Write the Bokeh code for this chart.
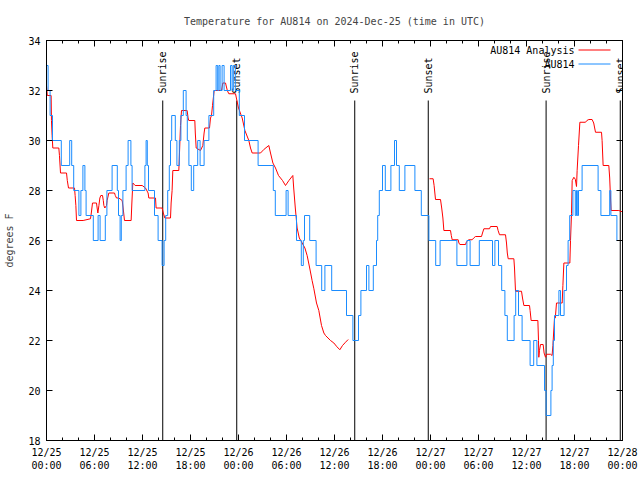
import numpy as np
from bokeh.plotting import figure
from bokeh.models import FixedTicker, LinearAxis, Range1d
from bokeh.core.properties import value
from bokeh.embed import file_html
from bokeh.resources import INLINE

# ---- data (hours since 2024-12-25 00:00 UTC) ----
obs_hours = [0.0, 0.2, 0.45, 0.75, 1.85, 2.9, 3.15, 3.4, 4.05, 4.3, 4.55, 4.8, 4.95, 5.85, 6.45, 6.7,
             7.35, 7.55, 8.2, 8.85, 9.0, 9.2, 9.35, 9.55, 9.95, 10.2, 10.55, 10.7, 12.3, 12.45, 12.6,
             12.75, 13.5, 13.95, 14.45, 14.7, 14.9, 15.15, 15.35, 15.5, 15.65, 16.1, 16.3, 16.6, 16.8,
             17.1, 17.45, 17.6, 17.8, 18.1, 18.4, 18.9, 19.2, 19.7, 20.3, 20.9, 21.2, 21.4, 21.55,
             21.7, 21.95, 22.2, 23.0, 23.2, 23.35, 23.6, 24.1, 24.75, 26.45, 28.35, 28.6, 29.95,
             30.2, 31.25, 31.85, 32.1, 32.25, 32.9, 33.7, 34.4, 34.8, 35.65, 37.5, 38.3, 39.0, 39.3,
             40.0, 40.3, 40.85, 41.25, 41.4, 41.6, 42.0, 42.35, 43.05, 43.5, 43.75, 44.1, 44.8,
             46.05, 46.85, 47.8, 48.65, 49.2, 51.3, 52.55, 52.95, 54.1, 55.75, 56.05, 56.5, 56.9,
             57.3, 57.6, 58.45, 58.65, 59.0, 59.45, 60.45, 60.9, 61.3, 62.25, 62.45, 63.05, 63.2,
             63.35, 63.5, 64.05, 64.25, 64.7, 65.0, 65.2, 65.4, 65.8, 66.1, 66.25, 66.35, 66.5,
             66.95, 68.95, 69.3, 70.4, 70.55, 71.3, 72.0]
obs_temp = [33, 32, 31, 30, 29, 30, 29, 28, 27, 28, 29, 28, 27, 26, 27, 26,
            27, 28, 29, 28, 27, 26, 27, 28, 29, 30, 29, 28, 29, 30, 29,
            28, 27, 26, 25, 26, 27, 28, 29, 30, 31, 30, 29, 30, 31,
            32, 31, 30, 29, 28, 29, 30, 29, 30, 31, 32, 33, 32, 33,
            32, 33, 32, 33, 32, 33, 32, 31, 30, 29, 28, 27, 28,
            27, 26, 25, 26, 27, 26, 25, 24, 25, 24, 23, 22, 23, 24,
            25, 24, 25, 26, 27, 28, 29, 28, 29, 30, 29, 28, 29,
            28, 27, 26, 25, 26, 25, 26, 25, 26, 25, 26, 25, 24,
            23, 22, 23, 24, 23, 22, 21, 22, 21, 20, 19, 20, 21,
            22, 23, 24, 23, 24, 25, 26, 27, 28, 27, 28, 27, 28,
            29, 28, 27, 28, 27, 26, 26]

ana1_hours = [0.0, 0.1, 0.58, 0.62, 0.7, 0.79, 1.54, 1.62, 1.75, 2.5, 2.6, 2.75, 3.5, 3.58, 3.67, 3.75,
              4.58, 5.5, 5.6, 5.75, 6.25, 6.33, 6.42, 6.55, 6.67, 6.79, 7.0, 7.1, 7.17, 7.29, 7.5,
              7.58, 7.79, 8.5, 8.6, 8.75, 9.04, 9.46, 9.58, 9.75, 10.58, 10.67, 10.79, 11.08, 11.96,
              12.375, 12.7, 12.79, 13.625, 13.7, 14.46, 14.6, 14.79, 15.5, 15.58, 15.7, 15.79, 16.54,
              16.6, 16.75, 16.875, 17.58, 17.7, 17.79, 18.54, 18.6, 18.71, 19.25, 19.54, 19.7, 19.79,
              20.375, 20.5, 20.625, 20.75, 20.96, 21.875, 22.04, 22.375, 22.6, 22.79, 23.625, 23.8,
              24.0, 24.46, 24.8, 25.29, 25.5, 25.71, 26.75, 27.2, 27.79, 28.0, 28.3, 28.625, 29.0,
              29.5, 29.875, 30.3, 30.79, 30.9, 31.1, 31.33, 31.6, 31.96, 32.3, 32.58, 32.9, 33.2,
              33.42, 33.75, 34.04, 34.375, 34.67, 34.875, 35.5, 35.92, 36.3, 36.67, 37.0, 37.375, 37.71]
ana1_temp = [32.2, 31.8, 31.8, 30.8, 30.2, 29.7, 29.7, 29.4, 28.7, 28.7, 28.4, 28.1, 28.1, 27.8, 27.4, 26.8,
             26.8, 26.87, 27.1, 27.5, 27.5, 27.3, 27.1, 27.4, 27.7, 27.8, 27.8, 27.6, 27.4, 27.3, 27.4,
             27.6, 27.9, 27.9, 27.8, 27.7, 27.7, 27.6, 27.3, 26.8, 26.8, 27.5, 28.3, 28.2, 28.2,
             28.1, 27.9, 27.7, 27.7, 27.3, 27.3, 27.1, 26.9, 26.9, 27.5, 28.0, 28.8, 28.8,
             29.3, 30.6, 31.2, 31.2, 30.9, 30.8, 30.8, 30.3, 29.7, 29.6, 29.8, 30.3, 30.5,
             30.5, 30.9, 31.0, 31.4, 32.0, 32.0, 32.3, 32.3, 32.0, 31.87, 31.87, 31.6,
             31.3, 30.9, 30.4, 30.0, 29.7, 29.5, 29.5, 29.65, 29.8, 29.5, 29.1, 28.9, 28.6,
             28.4, 28.2, 28.4, 28.6, 28.1, 27.3, 26.5, 26.1, 25.9, 25.7, 25.4, 24.9, 24.4,
             24.07, 23.5, 23.2, 22.6, 22.3, 22.2, 22.0, 21.9, 21.75, 21.63, 21.8, 21.93, 22.04]

ana2_hours = [47.875, 48.33, 48.45, 48.625, 49.25, 49.4, 49.55, 49.67, 50.5, 50.6, 50.71, 51.46, 51.55,
              51.67, 52.375, 52.5, 52.79, 53.21, 53.4, 53.625, 54.375, 54.5, 54.67, 55.375, 55.5,
              56.33, 56.45, 56.625, 57.375, 57.5, 57.6, 57.71, 58.42, 58.5, 58.625, 59.375, 59.5,
              59.67, 60.375, 60.45, 60.58, 61.42, 61.5, 61.54, 61.62, 61.75, 62.08, 62.2, 62.375,
              62.5, 63.0, 63.2, 63.3, 63.5, 63.6, 63.75, 64.46, 64.55, 64.67, 65.42, 65.5, 65.625,
              65.71, 65.92, 66.1, 66.25, 66.33, 66.5, 66.67, 67.375, 67.55, 67.79, 68.2, 68.4,
              68.625, 69.375, 69.45, 69.58, 70.29, 70.4, 70.5, 70.58, 71.54, 71.96]
ana2_temp = [28.47, 28.47, 28.2, 27.64, 27.64, 27.3, 26.9, 26.4, 26.4, 26.2, 26.03, 26.03, 25.9,
             25.84, 25.84, 25.95, 26.03, 26.03, 26.1, 26.16, 26.16, 26.3, 26.47, 26.47, 26.56,
             26.56, 26.4, 26.23, 26.23, 25.9, 25.5, 25.27, 25.27, 24.9, 23.97, 23.97, 23.7,
             23.4, 23.4, 23.2, 22.8, 22.8, 22.0, 21.33, 21.6, 21.84, 21.84, 21.5, 21.33,
             21.45, 21.45, 21.4, 21.8, 22.9, 22.9, 23.5, 23.5, 24.2, 25.1, 25.1, 26.0, 27.07,
             28.4, 28.53, 28.45, 28.16, 28.8, 29.8, 30.73, 30.73, 30.8, 30.84, 30.84, 30.7,
             30.33, 30.33, 30.0, 29.0, 29.0, 28.5, 27.7, 27.2, 27.2, 27.15]

sun_hours = [14.53, 23.78, 38.53, 47.72, 62.45, 71.72]
sun_labels = ["Sunrise", "Sunset", "Sunrise", "Sunset", "Sunrise", "Sunset"]

xtick_hours = [0, 6, 12, 18, 24, 30, 36, 42, 48, 54, 60, 66, 72]
xtick_labels = ["12/25\n00:00", "12/25\n06:00", "12/25\n12:00", "12/25\n18:00",
                "12/26\n00:00", "12/26\n06:00", "12/26\n12:00", "12/26\n18:00",
                "12/27\n00:00", "12/27\n06:00", "12/27\n12:00", "12/27\n18:00",
                "12/28\n00:00"]
xminor_hours = list(range(0, 73, 2))
ytick_values = [18, 20, 22, 24, 26, 28, 30, 32, 34]
key_labels = ["AU814 Analysis", "AU814"]

# ---- styles / layout ----
FONT = "DejaVu Sans Mono"
FS = "10px"
RED = "#ff0000"
BLUE = "#1a8cff"
SUN_LINE_TOP = 31.6
X0, X1, Y0, Y1 = 0, 72, 18, 34
FRAME_W, FRAME_H = 576, 400
# key placement in frame pixels (from frame top-left)
KEY_TEXT_RIGHT_PX, KEY_LINE_X0_PX, KEY_LINE_X1_PX = 528, 532, 564
KEY_ROW0_PX, KEY_ROW_STEP_PX = 9.5, 14

def fx(px):
    return X0 + (X1 - X0) * px / FRAME_W

def fy(px):
    return Y1 - (Y1 - Y0) * px / FRAME_H

p = figure(width=640, height=480, output_backend="svg", toolbar_location=None,
           x_range=Range1d(X0, X1), y_range=Range1d(Y0, Y1),
           min_border_left=46, min_border_right=18, min_border_top=40, min_border_bottom=40)

p.title.text = "Temperature for AU814 on 2024-Dec-25 (time in UTC)"
p.title.align = "center"
p.title.text_font = FONT
p.title.text_font_size = FS
p.title.text_font_style = "normal"
p.title.standoff = 27
p.grid.visible = False
p.outline_line_color = "black"
p.outline_line_alpha = 1.0
p.background_fill_color = "white"
p.border_fill_color = "white"

xt = FixedTicker(ticks=xtick_hours, minor_ticks=xminor_hours)
yt = FixedTicker(ticks=ytick_values, minor_ticks=[])

def style_axis(ax, ticker, labels=True):
    ax.ticker = ticker
    ax.major_tick_in = 6
    ax.major_tick_out = 0
    ax.minor_tick_in = 3
    ax.minor_tick_out = 0
    ax.axis_line_color = "black"
    ax.major_tick_line_color = "black"
    ax.minor_tick_line_color = "black"
    ax.major_label_text_font = FONT
    ax.major_label_text_font_size = FS
    ax.major_label_text_color = "black"
    if not labels:
        ax.major_label_text_font_size = "0px"
        ax.major_label_standoff = 0

style_axis(p.xaxis[0], xt)
p.xaxis[0].major_label_overrides = dict(zip(xtick_hours, xtick_labels))
p.xaxis[0].major_label_standoff = 6
style_axis(p.yaxis[0], yt)
p.yaxis[0].major_label_standoff = 6
p.yaxis[0].axis_label = "degrees F"
p.yaxis[0].axis_label_text_font = FONT
p.yaxis[0].axis_label_text_font_size = FS
p.yaxis[0].axis_label_text_font_style = "normal"
p.yaxis[0].axis_label_standoff = 10

top_ax = LinearAxis()
style_axis(top_ax, xt, labels=False)
p.add_layout(top_ax, "above")
right_ax = LinearAxis()
style_axis(right_ax, yt, labels=False)
p.add_layout(right_ax, "right")

# sunrise / sunset markers
p.segment(x0=sun_hours, y0=[SUN_LINE_TOP] * len(sun_hours), x1=sun_hours, y1=[Y0] * len(sun_hours),
          line_color="black", line_width=1)
p.text(x=sun_hours, y=[SUN_LINE_TOP] * len(sun_hours), text=sun_labels, angle=np.pi / 2,
       text_align="left", text_baseline="middle", y_offset=-7,
       text_font=value(FONT), text_font_size=FS, text_color="black")

# series
p.line(ana1_hours, ana1_temp, line_color=RED, line_width=1)
p.line(ana2_hours, ana2_temp, line_color=RED, line_width=1)
p.step(obs_hours, obs_temp, mode="after", line_color=BLUE, line_width=1)

# gnuplot-style key: label text, then a sample line to its right
rows = [fy(KEY_ROW0_PX + KEY_ROW_STEP_PX * i) for i in range(len(key_labels))]
p.text(x=[fx(KEY_TEXT_RIGHT_PX)] * len(rows), y=rows, text=key_labels,
       text_align="right", text_baseline="middle",
       text_font=value(FONT), text_font_size=FS, text_color="black")
p.segment(x0=[fx(KEY_LINE_X0_PX)] * len(rows), y0=rows, x1=[fx(KEY_LINE_X1_PX)] * len(rows), y1=rows,
          line_color=[RED, BLUE], line_width=1)

open("out.html", "w").write(file_html(p, INLINE))
